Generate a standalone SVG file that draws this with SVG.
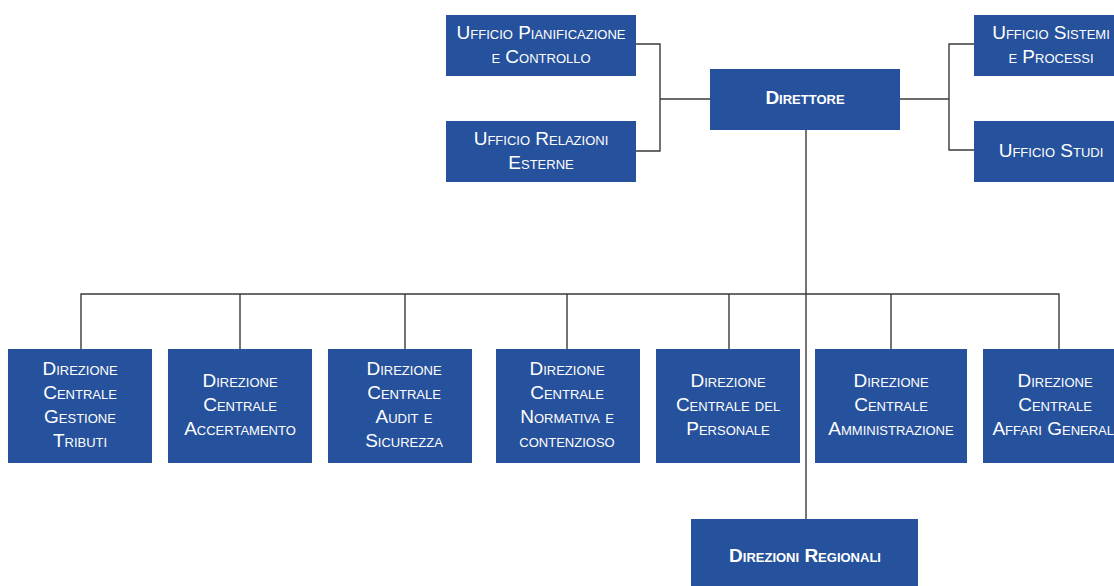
<svg xmlns="http://www.w3.org/2000/svg" width="1114" height="586" viewBox="0 0 1114 586">
<style>
.box{fill:#26519c}
.t{font-family:"Liberation Sans Narrow","Liberation Sans",Arial,sans-serif;font-size:19px;font-variant:small-caps;fill:#ffffff;text-anchor:middle}
.b{font-weight:bold}
.c{fill:none;stroke:#3a3a3a;stroke-width:1.4}
</style>
<rect width="1114" height="586" fill="#ffffff"/>
<g id="connectors">
<path class="c" d="M636 44H660V151H636M660 99H710"/>
<path class="c" d="M900 99H949M974 44H949V150H974"/>
<path class="c" d="M806 130V519"/>
<path class="c" d="M81 349V294H1059V349M240 294V349M405 294V349M567 294V349M729 294V349M891 294V349"/>
</g>
<g id="n-pianificazione"><rect class="box" x="446" y="15" width="190" height="61"/><text class="t" x="541" y="39">Ufficio Pianificazione</text><text class="t" x="541" y="63">e Controllo</text></g>
<g id="n-relazioni"><rect class="box" x="446" y="121" width="190" height="61"/><text class="t" x="541" y="145">Ufficio Relazioni</text><text class="t" x="541" y="169">Esterne</text></g>
<g id="n-direttore"><rect class="box" x="710" y="69" width="190" height="61"/><text class="t b" x="805" y="104">Direttore</text></g>
<g id="n-sistemi"><rect class="box" x="974" y="15" width="160" height="61"/><text class="t" x="1051" y="39">Ufficio Sistemi</text><text class="t" x="1051" y="63">e Processi</text></g>
<g id="n-studi"><rect class="box" x="974" y="121" width="160" height="61"/><text class="t" x="1051" y="157">Ufficio Studi</text></g>
<g id="n-dc-tributi"><rect class="box" x="8" y="349" width="144" height="114"/><text class="t" x="80" y="375">Direzione</text><text class="t" x="80" y="399">Centrale</text><text class="t" x="80" y="423">Gestione</text><text class="t" x="80" y="447">Tributi</text></g>
<g id="n-dc-accertamento"><rect class="box" x="168" y="349" width="144" height="114"/><text class="t" x="240" y="387">Direzione</text><text class="t" x="240" y="411">Centrale</text><text class="t" x="240" y="435">Accertamento</text></g>
<g id="n-dc-audit"><rect class="box" x="328" y="349" width="144" height="114"/><text class="t" x="404" y="375">Direzione</text><text class="t" x="404" y="399">Centrale</text><text class="t" x="404" y="423">Audit e</text><text class="t" x="404" y="447">Sicurezza</text></g>
<g id="n-dc-normativa"><rect class="box" x="496" y="349" width="144" height="114"/><text class="t" x="567" y="375">Direzione</text><text class="t" x="567" y="399">Centrale</text><text class="t" x="567" y="423">Normativa e</text><text class="t" x="567" y="447">contenzioso</text></g>
<g id="n-dc-personale"><rect class="box" x="656" y="349" width="144" height="114"/><text class="t" x="728" y="387">Direzione</text><text class="t" x="728" y="411">Centrale del</text><text class="t" x="728" y="435">Personale</text></g>
<g id="n-dc-amministrazione"><rect class="box" x="815" y="349" width="152" height="114"/><text class="t" x="891" y="387">Direzione</text><text class="t" x="891" y="411">Centrale</text><text class="t" x="891" y="435">Amministrazione</text></g>
<g id="n-dc-affari"><rect class="box" x="983" y="349" width="152" height="114"/><text class="t" x="1055" y="387">Direzione</text><text class="t" x="1055" y="411">Centrale</text><text class="t" x="1055" y="435">Affari Generali</text></g>
<g id="n-regionali"><rect class="box" x="691" y="519" width="227" height="67"/><text class="t b" x="805" y="562">Direzioni Regionali</text></g>
</svg>
